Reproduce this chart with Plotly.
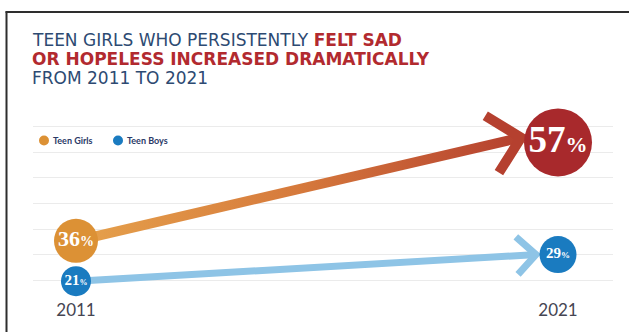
import math
import plotly.graph_objects as go

# ---------------- data ----------------
YEARS = [2011, 2021]
SERIES = ["Teen Girls", "Teen Boys"]
GIRLS = [36, 57]
BOYS = [21, 29]
TITLE_LINES = [
    ("TEEN GIRLS WHO PERSISTENTLY ", "FELT SAD"),
    ("", "OR HOPELESS INCREASED DRAMATICALLY"),
    ("FROM 2011 TO 2021", ""),
]

# ---------------- styling / layout ----------------
W, H = 629, 332
L, R, T, B = 33, 613, 110, 295
XR = [2010.108, 2022.141]
YR_G = [25.08, 63.93]
YR_B = [17.74, 72.56]
NAVY = "#2D4A72"
RED = "#B22A2F"
ORANGE = "#DC9135"
DARKRED = "#A8292C"
BLUE = "#1A7BC0"
LIGHTBLUE = "#8EC4E6"


def x2px(x):
    return L + (x - XR[0]) / (XR[1] - XR[0]) * (R - L)


def px2x(p):
    return XR[0] + (p - L) / (R - L) * (XR[1] - XR[0])


def y2px(y, yr):
    return B - (y - yr[0]) / (yr[1] - yr[0]) * (B - T)


def px2y(p, yr):
    return yr[0] + (B - p) / (B - T) * (yr[1] - yr[0])


def paper_x(p):
    return (p - L) / (R - L)


def paper_y(p):
    return (B - p) / (B - T)


def arrow_geom(vals, yr, tip_off, arm_len):
    sx, sy = x2px(YEARS[0]), y2px(vals[0], yr)
    ex, ey = x2px(YEARS[1]), y2px(vals[1], yr)
    tx, ty = ex + tip_off[0], ey + tip_off[1]
    dx, dy = tx - sx, ty - sy
    d = math.hypot(dx, dy)
    ux, uy = dx / d, dy / d
    back = math.atan2(-uy, -ux)
    arms = [(tx + arm_len * math.cos(back + a), ty + arm_len * math.sin(back + a))
            for a in (math.radians(45), math.radians(-45))]
    return (sx, sy), (tx, ty), (ux, uy), arms


fig = go.Figure()

# ---- girls arrow (gradient shaft + chevron) ----
(sx, sy), (tx, ty), (ux, uy), arms = arrow_geom(GIRLS, YR_G, (-37, -5), 42)
hw = 5
nx, ny = -uy, ux
exx, eyy = tx - ux * 4, ty - uy * 4
poly = [(sx + nx * hw, sy + ny * hw), (exx + nx * hw, eyy + ny * hw),
        (exx - nx * hw, eyy - ny * hw), (sx - nx * hw, sy - ny * hw),
        (sx + nx * hw, sy + ny * hw)]
fig.add_trace(go.Scatter(
    x=[px2x(p[0]) for p in poly], y=[px2y(p[1], YR_G) for p in poly],
    mode="lines", fill="toself", line=dict(width=0, color="rgba(0,0,0,0)"),
    fillgradient=dict(type="horizontal",
                      colorscale=[[0, "#E6A24C"], [0.5, "#D67A3C"], [1, "#B5402F"]]),
    hoverinfo="skip", showlegend=False, yaxis="y"))
chev = [arms[0], (tx, ty), arms[1]]
fig.add_trace(go.Scatter(
    x=[px2x(p[0]) for p in chev], y=[px2y(p[1], YR_G) for p in chev],
    mode="lines", line=dict(width=10, color="#B5402F"),
    hoverinfo="skip", showlegend=False, yaxis="y"))

# ---- boys arrow ----
(sx, sy), (tx, ty), (ux, uy), arms = arrow_geom(BOYS, YR_B, (-22, 0), 27)
pts = [(sx, sy), (tx - ux * 3, ty - uy * 3), None, arms[0], (tx, ty), arms[1]]
fig.add_trace(go.Scatter(
    x=[None if p is None else px2x(p[0]) for p in pts],
    y=[None if p is None else px2y(p[1], YR_B) for p in pts],
    mode="lines", line=dict(width=7, color=LIGHTBLUE),
    hoverinfo="skip", showlegend=False, yaxis="y2"))

# ---- circles with labels ----
def labels(vals, pct_sizes):
    return [f"<b>{v}<span style='font-size:{s}px'>%</span></b>" for v, s in zip(vals, pct_sizes)]

fig.add_trace(go.Scatter(
    x=YEARS, y=GIRLS, name=SERIES[0], mode="markers+text",
    marker=dict(size=[44, 68], color=[ORANGE, DARKRED], opacity=1, line=dict(width=0)),
    text=labels(GIRLS, [14, 22]), textposition="middle center",
    textfont=dict(family="Liberation Serif", color="white", size=[22, 37]),
    cliponaxis=False, showlegend=False, yaxis="y"))
fig.add_trace(go.Scatter(
    x=YEARS, y=BOYS, name=SERIES[1], mode="markers+text",
    marker=dict(size=[30, 37], color=[BLUE, BLUE], opacity=1, line=dict(width=0)),
    text=labels(BOYS, [8, 9]), textposition="middle center",
    textfont=dict(family="Liberation Serif", color="white", size=[15, 15]),
    cliponaxis=False, showlegend=False, yaxis="y2"))

# ---- title ----
annotations = []
for i, (norm, bold) in enumerate(TITLE_LINES):
    if norm and bold:
        txt = f"{norm}<b><span style='color:{RED}'>{bold}</span></b>"
        col = NAVY
    elif bold:
        txt = f"<b>{bold}</b>"
        col = RED
    else:
        txt = norm
        col = NAVY
    annotations.append(dict(
        xref="paper", yref="paper", x=paper_x(30), y=paper_y(38.5 + i * 19.5),
        xanchor="left", yanchor="middle", showarrow=False, text=txt,
        font=dict(family="DejaVu Sans", size=17, color=col)))

# ---- legend (custom) ----
shapes = []
leg = [(SERIES[0], ORANGE, 44), (SERIES[1], BLUE, 118)]
for name, col, cx in leg:
    r = 5
    shapes.append(dict(type="circle", xref="paper", yref="paper",
                       x0=paper_x(cx - r), x1=paper_x(cx + r),
                       y0=paper_y(141 + r), y1=paper_y(141 - r),
                       fillcolor=col, line=dict(width=0)))
    annotations.append(dict(
        xref="paper", yref="paper", x=paper_x(cx + 7), y=paper_y(141),
        xanchor="left", yanchor="middle", showarrow=False, text=f"<b>{name}</b>",
        font=dict(family="Lato", size=9, color="#2B3A67")))

# ---- frame ----
shapes.append(dict(type="line", xref="paper", yref="paper",
                   x0=paper_x(6.5), x1=paper_x(6.5), y0=paper_y(10), y1=paper_y(340),
                   line=dict(color="#2E2E2E", width=2)))
shapes.append(dict(type="line", xref="paper", yref="paper",
                   x0=paper_x(5.5), x1=paper_x(640), y0=paper_y(10.5), y1=paper_y(10.5),
                   line=dict(color="#2E2E2E", width=2)))

fig.update_layout(
    width=W, height=H, autosize=False,
    margin=dict(l=L, r=W - R, t=T, b=H - B),
    paper_bgcolor="white", plot_bgcolor="white",
    showlegend=False,
    xaxis=dict(range=XR, tickvals=YEARS, ticktext=[str(y) for y in YEARS],
               showgrid=False, zeroline=False, showline=False, ticks="",
               tickfont=dict(family="Lato", size=17, color="#454552"),
               ticklabelstandoff=6, fixedrange=True),
    yaxis=dict(range=YR_G, tick0=27.6, dtick=5.46, showticklabels=False,
               showgrid=True, gridcolor="#EBEBEB", gridwidth=1,
               zeroline=False, showline=False, ticks="", fixedrange=True),
    yaxis2=dict(range=YR_B, overlaying="y", visible=False, showgrid=False,
                zeroline=False, fixedrange=True),
    annotations=annotations, shapes=shapes,
)

fig.write_html("out.html")
